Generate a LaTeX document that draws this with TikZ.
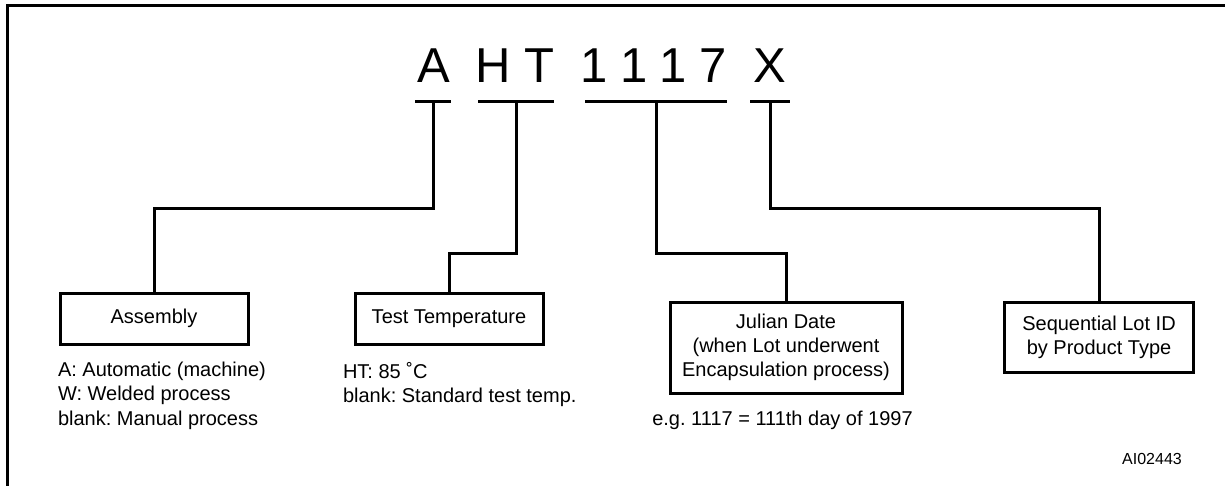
\documentclass[tikz,border=0pt]{standalone}
\usepackage{fontspec}
\setmainfont{Liberation Sans}
\frenchspacing

\begin{document}
\begin{tikzpicture}[x=1pt, y=-1pt, line width=3pt,
    code/.style={font=\fontsize{49}{49}\selectfont, inner sep=0pt, anchor=base},
    fieldbox/.style={draw, align=center, inner sep=0pt, font=\fontsize{20}{24}\selectfont},
    note/.style={align=left, inner sep=0pt, anchor=base west, font=\fontsize{20}{24.5}\selectfont}]
        % Page and frame
        \useasboundingbox (0,0) rectangle (1225,485);
        \clip (0,0) rectangle (1225,485);
        \draw (7.5,5.5) rectangle (1240,500);

        % Marking characters
        \foreach \name/\x/\ch in {cA/433.5/A, cH/493.5/H, cT/539/T, cOne/594/1, cTwo/634/1, cThree/673/1, cSeven/713.5/7, cX/770/X}
            \node[code] (\name) at (\x,82) {\ch};

        % Underlines and their stem tops
        \foreach \name/\x/\w in {A/433/36, HT/516/76, Date/656/142, X/770/40} {
            \draw (\x-\w/2,101) -- (\x+\w/2,101);
            \coordinate (t\name) at (\x,101);
        }

        % Field boxes
        \node[fieldbox, minimum width=188, minimum height=51] (assembly) at (154,318.5) {Assembly};
        \node[fieldbox, minimum width=188, minimum height=51] (temp) at (449,318.5) {Test Temperature};
        \node[fieldbox, minimum width=232, minimum height=91] (date) at (786,347.5)
            {Julian Date\\(when Lot underwent\\Encapsulation process)};
        \node[fieldbox, minimum width=189, minimum height=70] (lot) at (1099,337)
            {Sequential Lot ID\\by Product Type};

        % Connectors
        \draw (tA) -- ++(0,107) -| (assembly.north);
        \draw (tHT) -- ++(0,152) -| (temp.north);
        \draw (tDate) -- ++(0,152) -| (date.north);
        \draw (tX) -- ++(0,107) -| (lot.north);

        % Notes (base is the last line)
        \node[note] (asmnote) at (56.5,425) {A: Automatic (machine)\\W: Welded process\\blank: Manual process};
        \node[note] (tempnote) at (341.5,402.5) {HT: 85 ˚C\\blank: Standard test temp.};
        \node[note, anchor=base] (datenote) at (782.5,425) {e.g. 1117 = 111th day of 1997};
        \node[inner sep=0pt, anchor=base, font=\fontsize{16}{16}\selectfont] (figid) at (1152,464) {AI02443};
    \end{tikzpicture}
\end{document}
